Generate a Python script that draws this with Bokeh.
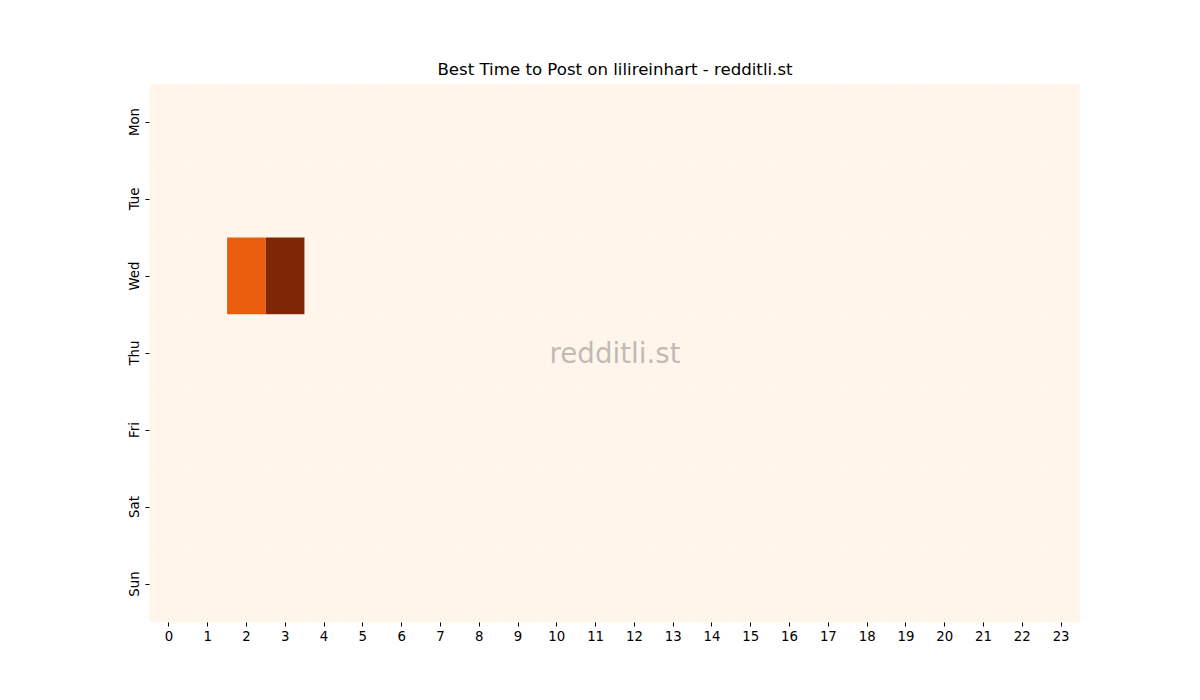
from bokeh.plotting import figure
from bokeh.models import LinearColorMapper, FixedTicker, ColumnDataSource, Label
from bokeh.palettes import Oranges256
from bokeh.embed import file_html
from bokeh.resources import INLINE

days = ["Mon", "Tue", "Wed", "Thu", "Fri", "Sat", "Sun"]
hours = list(range(24))
# non-zero cells: (day, hour, value); all other cells are 0
nonzero = {("Wed", 2): 2, ("Wed", 3): 3}
title = "Best Time to Post on lilireinhart - redditli.st"
watermark = "redditli.st"

xs, ys, vals = [], [], []
for di, d in enumerate(days):
    for h in hours:
        xs.append(h)
        ys.append(di)
        vals.append(nonzero.get((d, h), 0))
src = ColumnDataSource(dict(x=xs, y=ys, v=vals))

mapper = LinearColorMapper(palette=list(reversed(Oranges256)), low=0, high=max(vals))

p = figure(width=1184, height=684, output_backend="svg", toolbar_location=None,
           x_range=(-0.5, 23.5), y_range=(6.5, -0.5),
           frame_width=931, frame_height=539,
           min_border_left=149, min_border_right=104, min_border_top=83, min_border_bottom=62,
           title=title)
p.rect(x="x", y="y", width=1, height=1, source=src,
       fill_color={"field": "v", "transform": mapper}, line_color=None)

p.title.align = "center"
p.title.text_font = "DejaVu Sans"
p.title.text_font_size = "16.6px"
p.title.text_font_style = "normal"
p.title.text_color = "black"

p.grid.visible = False
p.outline_line_color = None
p.background_fill_color = "white"
p.border_fill_color = "white"

p.xaxis.ticker = FixedTicker(ticks=hours)
p.xaxis.major_label_overrides = {h: str(h) for h in hours}
p.yaxis.ticker = FixedTicker(ticks=list(range(len(days))))
p.yaxis.major_label_overrides = {i: d for i, d in enumerate(days)}
p.yaxis.major_label_orientation = "vertical"
for ax in (p.xaxis, p.yaxis):
    ax.axis_line_color = None
    ax.minor_tick_line_color = None
    ax.major_tick_in = 0
    ax.major_tick_out = 4
    ax.major_tick_line_color = "black"
    ax.major_label_text_font = "DejaVu Sans"
    ax.major_label_text_font_size = "13.3px"
    ax.major_label_text_color = "black"
    ax.major_label_standoff = 4

p.add_layout(Label(x=11.5, y=3.0, text=watermark, text_align="center", text_baseline="middle",
                   text_font="DejaVu Sans", text_font_size="27.7px",
                   text_color="gray", text_alpha=0.5))

open("out.html", "w").write(file_html(p, INLINE))
